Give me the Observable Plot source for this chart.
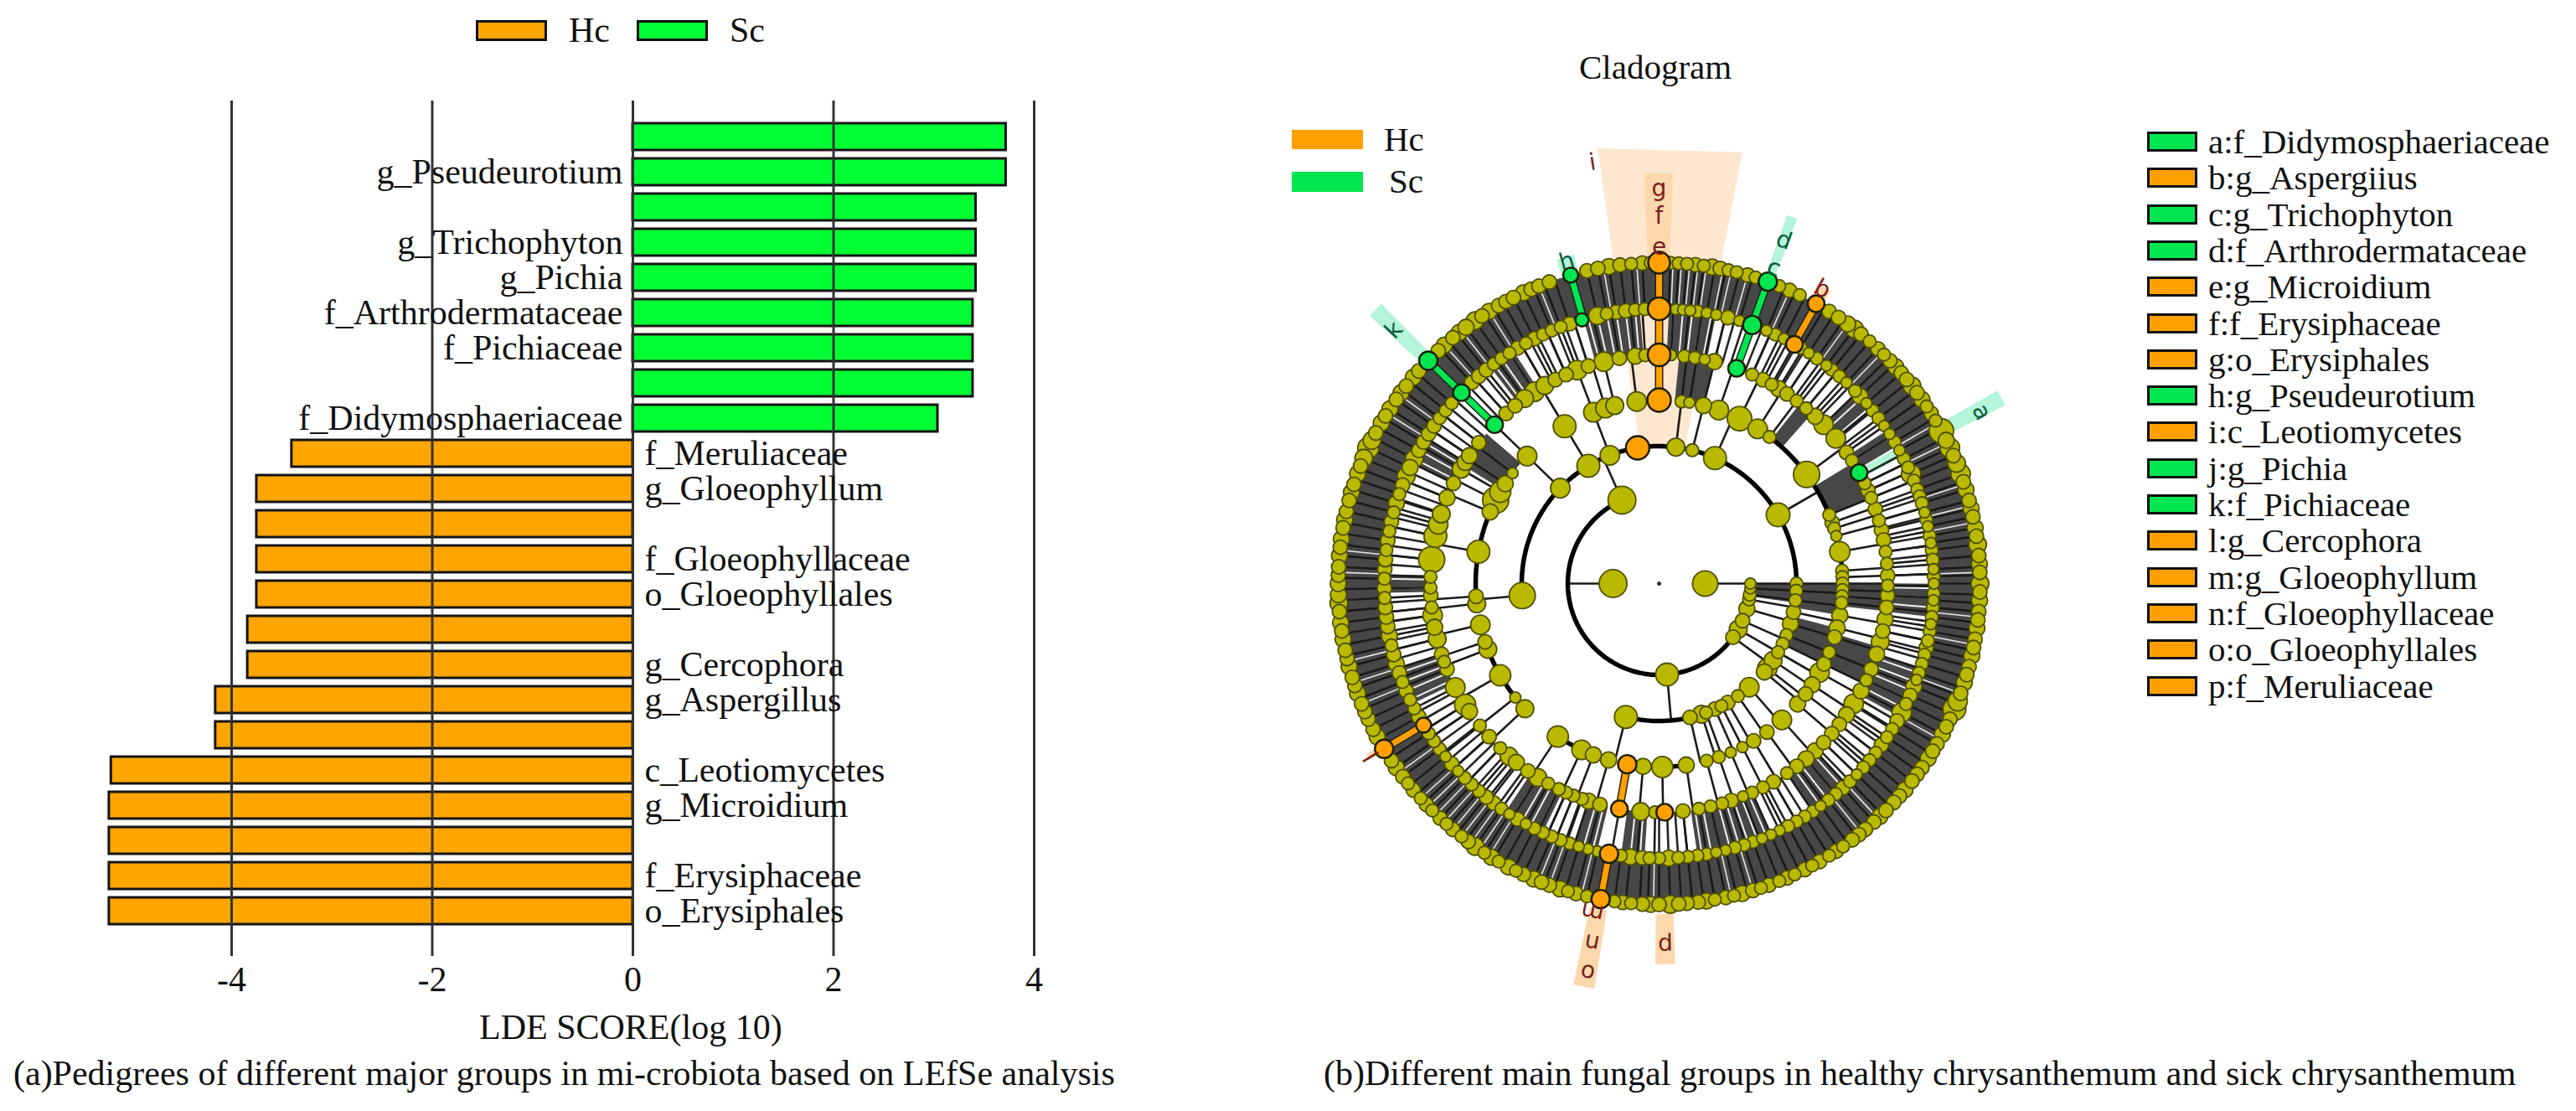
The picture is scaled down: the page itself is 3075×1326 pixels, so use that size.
<!DOCTYPE html>
<html><head><meta charset="utf-8">
<script src="https://cdn.jsdelivr.net/npm/d3@7"></script>
<script src="https://cdn.jsdelivr.net/npm/@observablehq/plot@0.6"></script>
<style>
html,body{margin:0;padding:0;background:#fff;width:3075px;height:1326px;overflow:hidden}
body{position:relative;font-family:"Liberation Serif",serif;color:#111}
.abs{position:absolute;white-space:nowrap}
.t{font-size:42px;line-height:50px;height:50px}
.sw{border:3px solid #111;box-sizing:border-box}
#left,#right{position:absolute;top:0}
#left{left:0}#right{left:1500px}
svg{display:block;background:transparent}
</style></head><body>
<div id="left"></div><div id="right"></div>
<script>
// ---------- panel (a): LDA bars ----------
const barNames=["","g_Pseudeurotium","","g_Trichophyton","g_Pichia","f_Arthrodermataceae","f_Pichiaceae","","f_Didymosphaeriaceae","f_Meruliaceae","g_Gloeophyllum","","f_Gloeophyllaceae","o_Gloeophyllales","","g_Cercophora","g_Aspergillus","","c_Leotiomycetes","g_Microidium","","f_Erysiphaceae","o_Erysiphales"];
const barValues=[3.72,3.72,3.42,3.42,3.42,3.39,3.39,3.39,3.04,-3.40,-3.75,-3.75,-3.75,-3.75,-3.84,-3.84,-4.16,-4.16,-5.20,-5.22,-5.22,-5.22,-5.22];
const xTicks=[-4,-2,0,2,4];
const HC="#FFA500",SC="#00FF33",HCN="#FFA000",SCN="#00E650";

// ---------- panel (b): cladogram, [clockwise angle from north, dot radius] ----------
const levelRadius=[0,55,109,164,219,273,328,383];
const ring1=[[270,16],[90,14.5]];
const ring2=[[336,16],[175,13],[126,8],[120,10],[114,8],[106,9],[100,7],[97,7],[93,6],[90,6]];
const ring3=[[265,15],[314,11],[329,13],[339,11],[7,10],[14,7],[24,13],[60,13.5],[90,7],[93,7],[97,7],[102,8],[107,9],[112,7],[116,7],[120,7],[124,10],[128,11],[130,9],[139,11],[145,7],[150,8],[153,7],[156,8],[160,7],[162,10],[167,8],[194,13]];
const ring4=[[263.7,10],[266,8],[280,13],[293,9],[297,15],[300,12],[303,9],[307,6],[314,11],[329,13],[339,11],[343,11],[346,10],[353,11],[7,7],[9.5,6],[14,9],[19,11],[26,14],[32.5,11],[37,7],[53.5,15],[68,7],[70.6,8],[72.5,7],[75,6],[80,11.5],[86,7],[88,7],[90,7],[92,7],[94,7],[96,7],[100,9],[104,9],[107,8],[112,7],[116,8],[119,11],[123.5,9],[127,8],[131,9],[138,11],[144,8],[149,8],[153,6],[157,6],[161,7],[165,7],[171.5,9],[179,12],[185,9],[196,9],[201,9],[205,11],[213.5,12],[227,10],[231.6,6],[240,12],[249,10],[251.5,8],[257,11]];
const ring5=[[3,6],[6.3,7],[9,7],[11.5,6],[14,9],[24,7],[27,8],[29.5,7],[31.5,9],[34,8],[37,7],[40,7],[43,9],[46,11],[50.6,11],[55,8],[57.5,7],[64,7],[66,8],[68,7],[71,8],[74,7],[76.5,8],[79,8],[82,7],[85,7],[88,8],[90.5,7],[93,8],[96,8],[99,9],[102,8],[104.8,10],[108,9],[112,8],[115,7],[118,9],[121.7,11],[125,9],[128,8],[131,8],[134,8],[137,9],[140,9],[143,8],[146,7],[150,8],[153,7],[156,7],[158.5,6],[161.6,8],[164,7],[167,7],[170,7],[174,8],[181,7],[184.6,10],[195,8],[198,9],[199.7,7],[202,7],[204,7],[206,7],[209,7],[212,10],[215,8],[218.6,9],[221,10],[224,7],[228,8],[231.6,7],[236,9],[238,12],[243,11],[248,8],[250,7],[252,8],[256,10],[259,9],[262,11],[264,7],[267,8],[269,7],[271.7,7],[276,15],[282,13],[285,11],[287.7,10],[292,9],[296,8],[300,10],[302,9],[304,9],[308,8],[318,8],[321,8],[324,10],[327,11],[330,10],[333,8],[336,8],[339,11],[342,8],[346,11],[350,8],[354,9],[356.5,7]];
const ring6=[[2,6],[3.5,6],[5,6],[6.5,6],[8,7],[10,6],[12,6],[14.5,8],[17,6],[23,6],[25,7],[27,6],[31,7],[33,6],[35,7],[37.5,6],[39,7],[41,7],[43,6],[45.5,7],[47,9],[49,6],[51,7],[53,7],[55,6],[57,6],[59,7],[61,6],[63,7],[65,7],[66.5,11],[68,7],[70,7],[71.5,7],[73,7],[75,6],[76.5,7],[78,6],[80,7],[81.5,6],[83,7],[85,7],[87,6],[88.5,7],[90,6],[92,7],[93.5,6],[95,7],[97,7],[98.5,6],[100,7],[102,7],[103.5,8],[105,7],[107,7],[109,7],[110.5,6],[112,9],[114,8],[116,7],[118,11],[120,8],[122,7],[124,7],[126,8],[128,7],[130,7],[132,7],[134,6],[136,7],[138,8],[140,7],[142,7],[144,6],[146,7],[148,7],[150,7],[152,7],[154,6],[156,6],[158,6],[160,7],[162,7],[164,7],[166,6],[168,6],[170,7],[172,7],[174,7],[176,7],[178,9],[180,7],[182,7],[183.5,8],[186,9],[188,7],[193,6],[195,6],[197,6],[199,7],[201,7],[203,7],[205,7],[207,7],[209,6],[211,8],[213,6],[215,7],[217,8],[219,8],[221,7],[223,7],[225,7],[227,6],[229,8],[231,6],[233,7],[235,7],[237,7],[241,8],[243,7],[245,7],[247,8],[249,7],[251,8],[253,9],[255,8],[257,7],[259,9],[261,8],[263,8],[265,8],[267,7],[269,8],[271,7],[273,8],[275,8],[277,7],[279,8],[281,7],[283,8],[285,7],[287,9],[289,7],[291,8],[293,10],[295,9],[297,10],[299,8],[301,8],[303,8],[305,8],[307,7],[309,7],[311,7],[317,8],[319,8],[321,8],[323,7],[325,7],[327,7],[329,8],[331,7],[333,8],[335,7],[337,7],[339,7],[341,8],[347,10],[349,7],[351,8],[353,8],[355,7],[357,7]];
const ring7=[[2,7],[3.5,7],[5,7],[6.5,8],[8,7],[9.5,9],[11,8],[12.5,7],[14,7],[16,8],[17.5,7],[22,7],[24,8],[26,7],[32,8],[34,8],[36,9],[37.5,10],[39,8],[41,7],[43,8],[44.5,7],[46,8],[47.5,9],[49,8],[50.5,8],[52,10],[53.5,8],[55,9],[56.5,7],[58,8],[59.5,7],[61.6,14],[63.5,9],[65,11],[66.5,8],[68,10],[70,11],[71.5,8],[73,9],[75,8],[76.5,9],[78,8],[80,9],[81.5,8],[83,10],[85,8],[86.5,9],[88,8],[90,10],[91.5,8],[93,9],[95,8],[96.5,8],[98,9],[100,8],[101.5,8],[103,9],[105,8],[106.5,8],[108,9],[110,8],[111.5,11],[113,13],[115,8],[116.5,8],[118,9],[120,8],[121.5,8],[123,9],[125,8],[126.5,8],[128,8],[130,9],[131.5,8],[133,8],[135,8],[136.5,9],[138,8],[140,8],[141.5,8],[143,8],[145,7],[146.5,8],[148,7],[150,8],[151.5,7],[153,8],[155,7],[156.5,8],[158,7],[160,8],[161.5,7],[163,8],[165,9],[166.5,7],[168,8],[170,7],[171.5,9],[173,8],[175,8],[176.5,8],[178,10],[180,8],[181.5,9],[183,8],[185,7],[186.5,8],[188,7],[193,7],[195,8],[196.5,7],[198,9],[200,8],[201.5,8],[203,9],[205,8],[206.5,7],[208,9],[210,7],[211.5,9],[213,7],[215,10],[216.5,8],[218,7],[220,8],[221.5,7],[223,8],[225,7],[226.5,8],[228,7],[230,8],[231.5,7],[233,8],[235,9],[236.5,8],[241.5,9],[243,8],[245,8],[246.5,8],[248,8],[250,9],[251.5,8],[253,8],[255,9],[256.5,8],[258,8],[260,9],[261.5,8],[263,9],[265,8],[266.5,10],[268,9],[270,9],[271.5,8],[273,8],[275,9],[276.5,8],[278,9],[280,8],[281.5,9],[283,8],[285,8],[286.5,9],[288,8],[290,9],[291.5,8],[293,10],[295,12],[296.5,10],[298,8],[300,9],[301.5,8],[303,9],[305,8],[306.5,9],[308,8],[310,9],[311.5,8],[316.5,8],[318,9],[320,8],[321.5,9],[323,9],[325,10],[326.5,8],[328,9],[330,8],[331.5,8],[333,8],[335,9],[336.5,8],[338,8],[340,8],[347,8],[349,8],[351,9],[353,8],[355,7],[357,8],[358.5,7]];
// nodes and chains of the differential taxa
const hitAngle=[351,0,0,0,0,190,190,190.5,190.5,178.6,239,239,29.3,29.5,19.8,19.8,19.8,344,343.7,314,314,314,61];
const hitLevel=[3,4,5,6,7,4,5,6,7,5,7,6,7,6,7,6,5,7,6,7,6,5,5];
const hitSize=[14,14,13.5,13.5,13,11,10,11,11,10,11,9,10,10,11,11,10,9,8,11,10,10,10];
const hitClass=["Hc","Hc","Hc","Hc","Hc","Hc","Hc","Hc","Hc","Hc","Hc","Hc","Hc","Hc","Sc","Sc","Sc","Sc","Sc","Sc","Sc","Sc","Sc"];
const chainAngle=[0,190,190.5,239,29.4,19.8,344,314];
const chainFrom=[219,219,328,328,329,274,328,273];
const chainTo=[383,273,383,383,383,383,383,383];
const chainClass=["Hc","Hc","Hc","Hc","Hc","Sc","Sc","Sc"];
// thick branch arcs: [from angle, to angle, level]
const branchArcs=[[126,336,2],[265,443,3],[83,130,3],[167,194,3],[263,297,4],[231,251,4],[397,431,4],[431,451,4],[171,185,4],[205,214,4]];
// dense fans of branch lines, shown as solid wedges: [from angle, to angle, level]
const fans=[[0,360,6],[2,12,5],[46,50,5],[56,60,5],[90,97,5],[108,119,5],[137,146,5],[156,172,5],[183,188,5],[193,198,5],[205,214,5],[244,252,5],[268,272,5],[296,302,5],[322,328,5],[344,356,5],[5,14,4],[38,42,4],[58,68,4],[90,97,4],[106,116,4],[301,311,4],[90,100,3],[104,116,3],[90,98,2]];
// white streaks through the outer fans and extra branch lines through the next one
const streaksOuter=[2.5,4,5.5,7,8.5,10,11.5,13,14.5,16,17,24,27,30,33,36,44,47,51,60,64,68,72,76,79,83,88,92,96,101,105,110,114,119,124,128,132,137,141,146,150,154,158,163,167,172,176,181,186,188,194,197,200,202,205,209,212,214,216,218,220,222,224,226,228,231,234,241,243,245,248,252,256,261,267,272,276,281,285,289,293,297,302,306,311,318,322,325,328,331,333,335,338,341,344,347,350,353,356];
const streaksNext=[3,5,7,9,11,47.5,57.5,91,93,95,109,111,113,115,117,138,140,142,144,157,159,161,163,165,167,169,171,184,186,194,196,206,208,210,212,245,247,249,251,269,271,297,299,301,323,325,327,345,347,349,351,353,355];
const linesNext=[14,16,18,22,24,26,28,30,32,34,36,38,40,42,44,51,53,54,62,64,66,68,70,72,74,76,78,80,82,84,86,88,98,100,102,104,106,120,122,124,126,128,130,132,134,136,148,150,152,154,174,176,178,180,190,200,202,204,216,218,220,222,224,226,228,230,232,234,236,238,240,242,254,256,258,260,262,264,266,274,276,278,280,282,284,286,288,290,292,294,304,306,308,310,312,316,318,320,330,332,334,336,338,340,342];
// faint bands behind the labels: [from angle, to angle, inner radius, outer radius, class]
const shadeFrom=[352,358,28,19.2,60.4,60.4,312.8,342.5,238.5,189,177.5];
const shadeTo=[371,362,30.5,20.8,62.8,62.6,315.2,345.5,239.7,192,180.5];
const shadeInner=[163,383,383,383,383,285,383,383,383,395,395];
const shadeOuter=[524,489,405,465,465,325,470,405,405,490,455];
const shadeClass=["i","Hc","Hc","Sc","Sc","Sc","Sc","Sc","Hc","Hc","Hc"];
const letters=["i","g","f","e","a","b","c","d","h","k","l","m","n","o","p"];
const letterAngle=[351,0,0,0,62,29,20,20,344,313.7,239,191.5,190.6,190.4,179];
const letterRadius=[509,471,438,401,436,402,401,436,400,438,400,400,436,472,432];
const letterClass=["Hc","Hc","Hc","Hc","Sc","Hc","Sc","Sc","Sc","Sc","Hc","Hc","Hc","Hc","Hc"];
// legends
const listNames=["a:f_Didymosphaeriaceae","b:g_Aspergiius","c:g_Trichophyton","d:f_Arthrodermataceae","e:g_Microidium","f:f_Erysiphaceae","g:o_Erysiphales","h:g_Pseudeurotium","i:c_Leotiomycetes","j:g_Pichia","k:f_Pichiaceae","l:g_Cercophora","m:g_Gloeophyllum","n:f_Gloeophyllaceae","o:o_Gloeophyllales","p:f_Meruliaceae"];
const listClass=["Sc","Hc","Sc","Sc","Hc","Hc","Hc","Sc","Hc","Sc","Sc","Hc","Hc","Hc","Hc","Hc"];

// ---------- geometry helpers ----------
const px=(a,r)=>r*Math.sin(a*Math.PI/180), py=(a,r)=>-r*Math.cos(a*Math.PI/180);
const arc=(a0,a1,r,id)=>{const pts=[];for(let a=a0;a<a1;a+=1.5)pts.push({x:px(a,r),y:py(a,r),id});pts.push({x:px(a1,r),y:py(a1,r),id});return pts;};
const rl=k=>levelRadius[k];
const radial=(list,k)=>list.map(([a])=>({x1:px(a,rl(k)),y1:py(a,rl(k)),x2:px(a,rl(k+1)),y2:py(a,rl(k+1))}));
const nodes=(list,k)=>list.map(([a,s])=>({x:px(a,rl(k)),y:py(a,rl(k)),s}));

// ---------- panel (a) ----------
const rows=barNames.map((name,i)=>({i,name,v:barValues[i]}));
const labelFont={x:0,y:"i",text:"name",fontSize:42,fill:"#111"};
document.getElementById("left").append(Plot.plot({
  width:1500,height:1326,marginTop:120,marginBottom:185,marginLeft:0,marginRight:0,
  style:{fontFamily:"Liberation Serif",background:"transparent"},
  x:{domain:[-4,4],range:[276,1234],ticks:xTicks,tickFormat:d=>String(d),label:null},
  y:{type:"band",domain:rows.map(d=>d.i),range:[136.5,1113.5],padding:0.238,axis:null},
  marks:[
    Plot.barX(rows,{x:"v",y:"i",fill:d=>d.v>0?SC:HC,stroke:"#141414",strokeWidth:3}),
    Plot.ruleX(xTicks,{stroke:"#333",strokeWidth:3}),
    Plot.text(rows.filter(d=>d.name&&d.v>0),{...labelFont,textAnchor:"end",dx:-12}),
    Plot.text(rows.filter(d=>d.name&&d.v<0),{...labelFont,textAnchor:"start",dx:14}),
    Plot.axisX({ticks:xTicks,tickSize:0,tickPadding:12,fontSize:42,tickFormat:d=>String(d),anchor:"bottom",label:null,fill:"#111"})
  ]
}));

// ---------- panel (b) ----------
const shades=[];
shadeFrom.forEach((a,i)=>{
  const b=shadeTo[i],r0=shadeInner[i],r1=shadeOuter[i],id=i,c=shadeClass[i];
  const fill=c==="i"?"#fde8cf":c==="Hc"?"#fdd8ac":"#b4f4d8";
  [r0,r1].forEach(r=>shades.push({x1:px(a,r),y1:py(a,r),x2:px(b,r),y2:py(b,r),id,fill}));
});
const fanPts=fans.flatMap(([a,b,k],i)=>arc(a,b,(rl(k)+rl(k+1))/2,i).map(p=>({...p,w:rl(k+1)-rl(k)})));
const arcPts=branchArcs.flatMap(([a,b,k],i)=>arc(a,b,rl(k),i));
const olive=[...nodes(ring1,1),...nodes(ring2,2),...nodes(ring3,3),...nodes(ring4,4),...nodes(ring5,5),...nodes(ring6,6),...nodes(ring7,7)];
const hits=hitAngle.map((a,i)=>({x:px(a,rl(hitLevel[i])),y:py(a,rl(hitLevel[i])),s:hitSize[i],c:hitClass[i]}));
const chains=chainAngle.map((a,i)=>({x1:px(a,chainFrom[i]),y1:py(a,chainFrom[i]),x2:px(a,chainTo[i]),y2:py(a,chainTo[i]),c:chainClass[i]}));
const lineData=[...radial(ring1,1),...radial(ring2,2),...radial(ring3,3),...radial(ring4,4),...radial(ring5,5),...radial(ring6,6)];
const seg=(list,k)=>list.map(a=>({x1:px(a,rl(k)),y1:py(a,rl(k)),x2:px(a,rl(k+1)),y2:py(a,rl(k+1))}));
const labels=letters.map((t,i)=>({t,x:px(letterAngle[i],letterRadius[i]),y:py(letterAngle[i],letterRadius[i]),a:letterAngle[i],c:letterClass[i]}));
const lineFans=fans.map((d,i)=>i);
document.getElementById("right").append(Plot.plot({
  width:1575,height:1326,margin:0,
  style:{background:"transparent"},
  x:{domain:[-480,1095],range:[0,1575],axis:null},
  y:{domain:[-696,630],range:[0,1326],axis:null},
  r:{type:"identity"},
  marks:[
    ...d3.rollups(shades,v=>v,d=>d.id).map(([id,v])=>Plot.area(v,{x1:"x1",y1:"y1",x2:"x2",y2:"y2",fill:v[0].fill})),
    ...lineFans.map(i=>Plot.line(fanPts.filter(p=>p.id===i),{x:"x",y:"y",stroke:"#474747",strokeWidth:fanPts.find(p=>p.id===i).w,strokeLinecap:"butt"})),
    Plot.link(seg(streaksOuter,6),{x1:"x1",y1:"y1",x2:"x2",y2:"y2",stroke:"#e8e8e8",strokeWidth:1.6}),
    Plot.link(seg(streaksNext,5),{x1:"x1",y1:"y1",x2:"x2",y2:"y2",stroke:"#f2f2f2",strokeWidth:2}),
    Plot.link(seg(linesNext,5),{x1:"x1",y1:"y1",x2:"x2",y2:"y2",stroke:"#222",strokeWidth:2.6}),
    Plot.link(lineData,{x1:"x1",y1:"y1",x2:"x2",y2:"y2",stroke:"#1a1a1a",strokeWidth:2.6}),
    Plot.line(arcPts,{x:"x",y:"y",z:"id",stroke:"#000",strokeWidth:5.5}),
    Plot.link(chains,{x1:"x1",y1:"y1",x2:"x2",y2:"y2",stroke:"#222",strokeWidth:10}),
    Plot.link(chains,{x1:"x1",y1:"y1",x2:"x2",y2:"y2",stroke:d=>d.c==="Hc"?HCN:SCN,strokeWidth:7}),
    Plot.dot(olive,{x:"x",y:"y",r:d=>d.s+0.6,fill:"#b9b900",stroke:"#4f4f06",strokeWidth:1.8}),
    Plot.dot(hits,{x:"x",y:"y",r:"s",fill:d=>d.c==="Hc"?HCN:SCN,stroke:"#1c1c00",strokeWidth:2.4}),
    Plot.dot([{x:0,y:0}],{x:"x",y:"y",r:2.5,fill:"#333",stroke:"none"}),
    Plot.text(labels,{x:"x",y:"y",text:"t",rotate:"a",fontSize:28,fontFamily:"DejaVu Sans",fill:d=>d.c==="Hc"?"#7a1e1e":"#0a5c38"})
  ]
}));

// ---------- html text and legends ----------
const add=(cls,css,text)=>{const e=document.createElement("div");e.className="abs "+cls;e.style.cssText=css;if(text)e.textContent=text;document.body.append(e);return e;};
add("sw",`left:568px;top:24px;width:85px;height:25px;background:${HC}`);
add("sw",`left:760px;top:24px;width:85px;height:25px;background:${SC}`);
add("t","left:679px;top:11px","Hc");
add("t","left:871px;top:11px","Sc");
add("t","left:572px;top:1201px","LDE SCORE(log 10)");
add("t","left:16px;top:1256px","(a)Pedigrees of different major groups in mi-crobiota based on LEfSe analysis");
add("t","left:1580px;top:1256px","(b)Different main fungal groups in healthy chrysanthemum and sick chrysanthemum");
add("t","left:1885px;top:55px;font-size:41px","Cladogram");
add("",`left:1542px;top:155px;width:85px;height:23px;background:${HCN}`);
add("",`left:1542px;top:205px;width:85px;height:24px;background:${SCN}`);
add("t","left:1652px;top:141px;font-size:41px","Hc");
add("t","left:1658px;top:191px;font-size:41px","Sc");
listNames.forEach((n,i)=>{
  const y=169+43.3*i;
  add("sw",`left:2563px;top:${y-12}px;width:60px;height:24px;background:${listClass[i]==="Hc"?HCN:SCN}`);
  add("t",`left:2636px;top:${y-25}px;font-size:41px`,n);
});
</script>
</body></html>
